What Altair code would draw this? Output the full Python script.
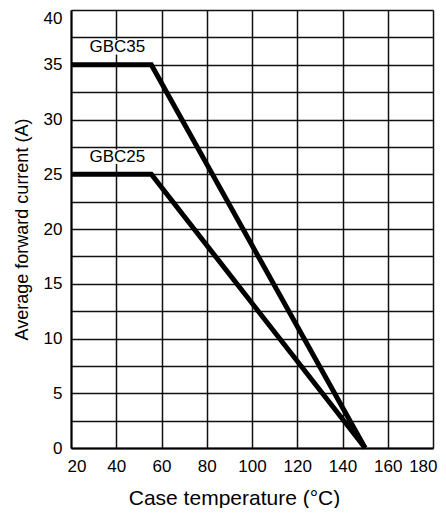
import altair as alt
import pandas as pd

# ---- data ----
series = ["GBC35", "GBC35", "GBC35", "GBC25", "GBC25", "GBC25"]
temperature = [20, 55.5, 150, 20, 55.5, 150]
current = [35, 35, 0, 25, 25, 0]

label_text = ["GBC35", "GBC25"]
label_x = [40.5, 40.5]
label_y = [36.6, 26.6]

x_ticks = [20, 40, 60, 80, 100, 120, 140, 160, 180]
y_grid = [0, 2.5, 5, 7.5, 10, 12.5, 15, 17.5, 20, 22.5, 25, 27.5, 30, 32.5, 35, 37.5, 40]

lines_df = pd.DataFrame({"series": series, "temp": temperature, "curr": current})
labels_df = pd.DataFrame({"name": label_text, "temp": label_x, "curr": label_y})

FONT = "Liberation Sans"

x_enc = alt.X(
    "temp:Q",
    scale=alt.Scale(domain=[20, 180], nice=False, zero=False),
    axis=alt.Axis(
        values=x_ticks,
        title="Case temperature (°C)",
        grid=True,
        ticks=False,
        labelFontSize=17,
        labelPadding=10,
        labelFont=FONT,
        labelColor="#000",
        labelFlush=True,
        labelFlushOffset=4,
        titleFont=FONT,
        titleFontSize=21,
        titleFontWeight="normal",
        titleColor="#000",
        titlePadding=13,
        titleX=163,
        domainColor="#000",
        domainWidth=2,
        gridColor="#111",
        gridWidth=1.5,
        gridOpacity=1,
    ),
)
y_enc = alt.Y(
    "curr:Q",
    scale=alt.Scale(domain=[0, 40], nice=False),
    axis=alt.Axis(
        values=y_grid,
        labelExpr="datum.value % 5 == 0 ? datum.label : ''",
        labelBaseline={"condition": {"test": "datum.value == 40", "value": "top"}, "value": "middle"},
        title="Average forward current (A)",
        grid=True,
        ticks=False,
        labelFontSize=17,
        labelPadding=9,
        labelFont=FONT,
        labelColor="#000",
        labelFlush=False,
        titleFont=FONT,
        titleFontSize=18,
        titleFontWeight="normal",
        titleColor="#000",
        titlePadding=12,
        domainColor="#000",
        domainWidth=2,
        gridColor="#111",
        gridWidth=1.5,
        gridOpacity=1,
    ),
)

boxes = alt.Chart(labels_df).mark_point(
    shape="M-1,-0.21L1,-0.21L1,0.21L-1,0.21Z",
    size=4900,
    filled=True,
    fill="white",
    stroke=None,
    opacity=1,
).encode(x=x_enc, y=y_enc)

lines = alt.Chart(lines_df).mark_line(
    color="black", strokeWidth=5, strokeJoin="miter"
).encode(x=x_enc, y=y_enc, detail="series:N")

texts = alt.Chart(labels_df).mark_text(
    font=FONT, fontSize=17, color="black", baseline="middle", align="center"
).encode(x=x_enc, y=y_enc, text="name:N")

chart = (
    alt.layer(boxes, lines, texts)
    .properties(
        width=362,
        height=438,
        autosize=alt.AutoSizeParams(type="none"),
        padding={"left": 63, "top": 2, "right": 5, "bottom": 60},
    )
    .configure_view(stroke="#111", strokeWidth=1.5)
    .configure(background="white")
)

chart.save("out.html", embed_options={"renderer": "svg", "actions": False})
